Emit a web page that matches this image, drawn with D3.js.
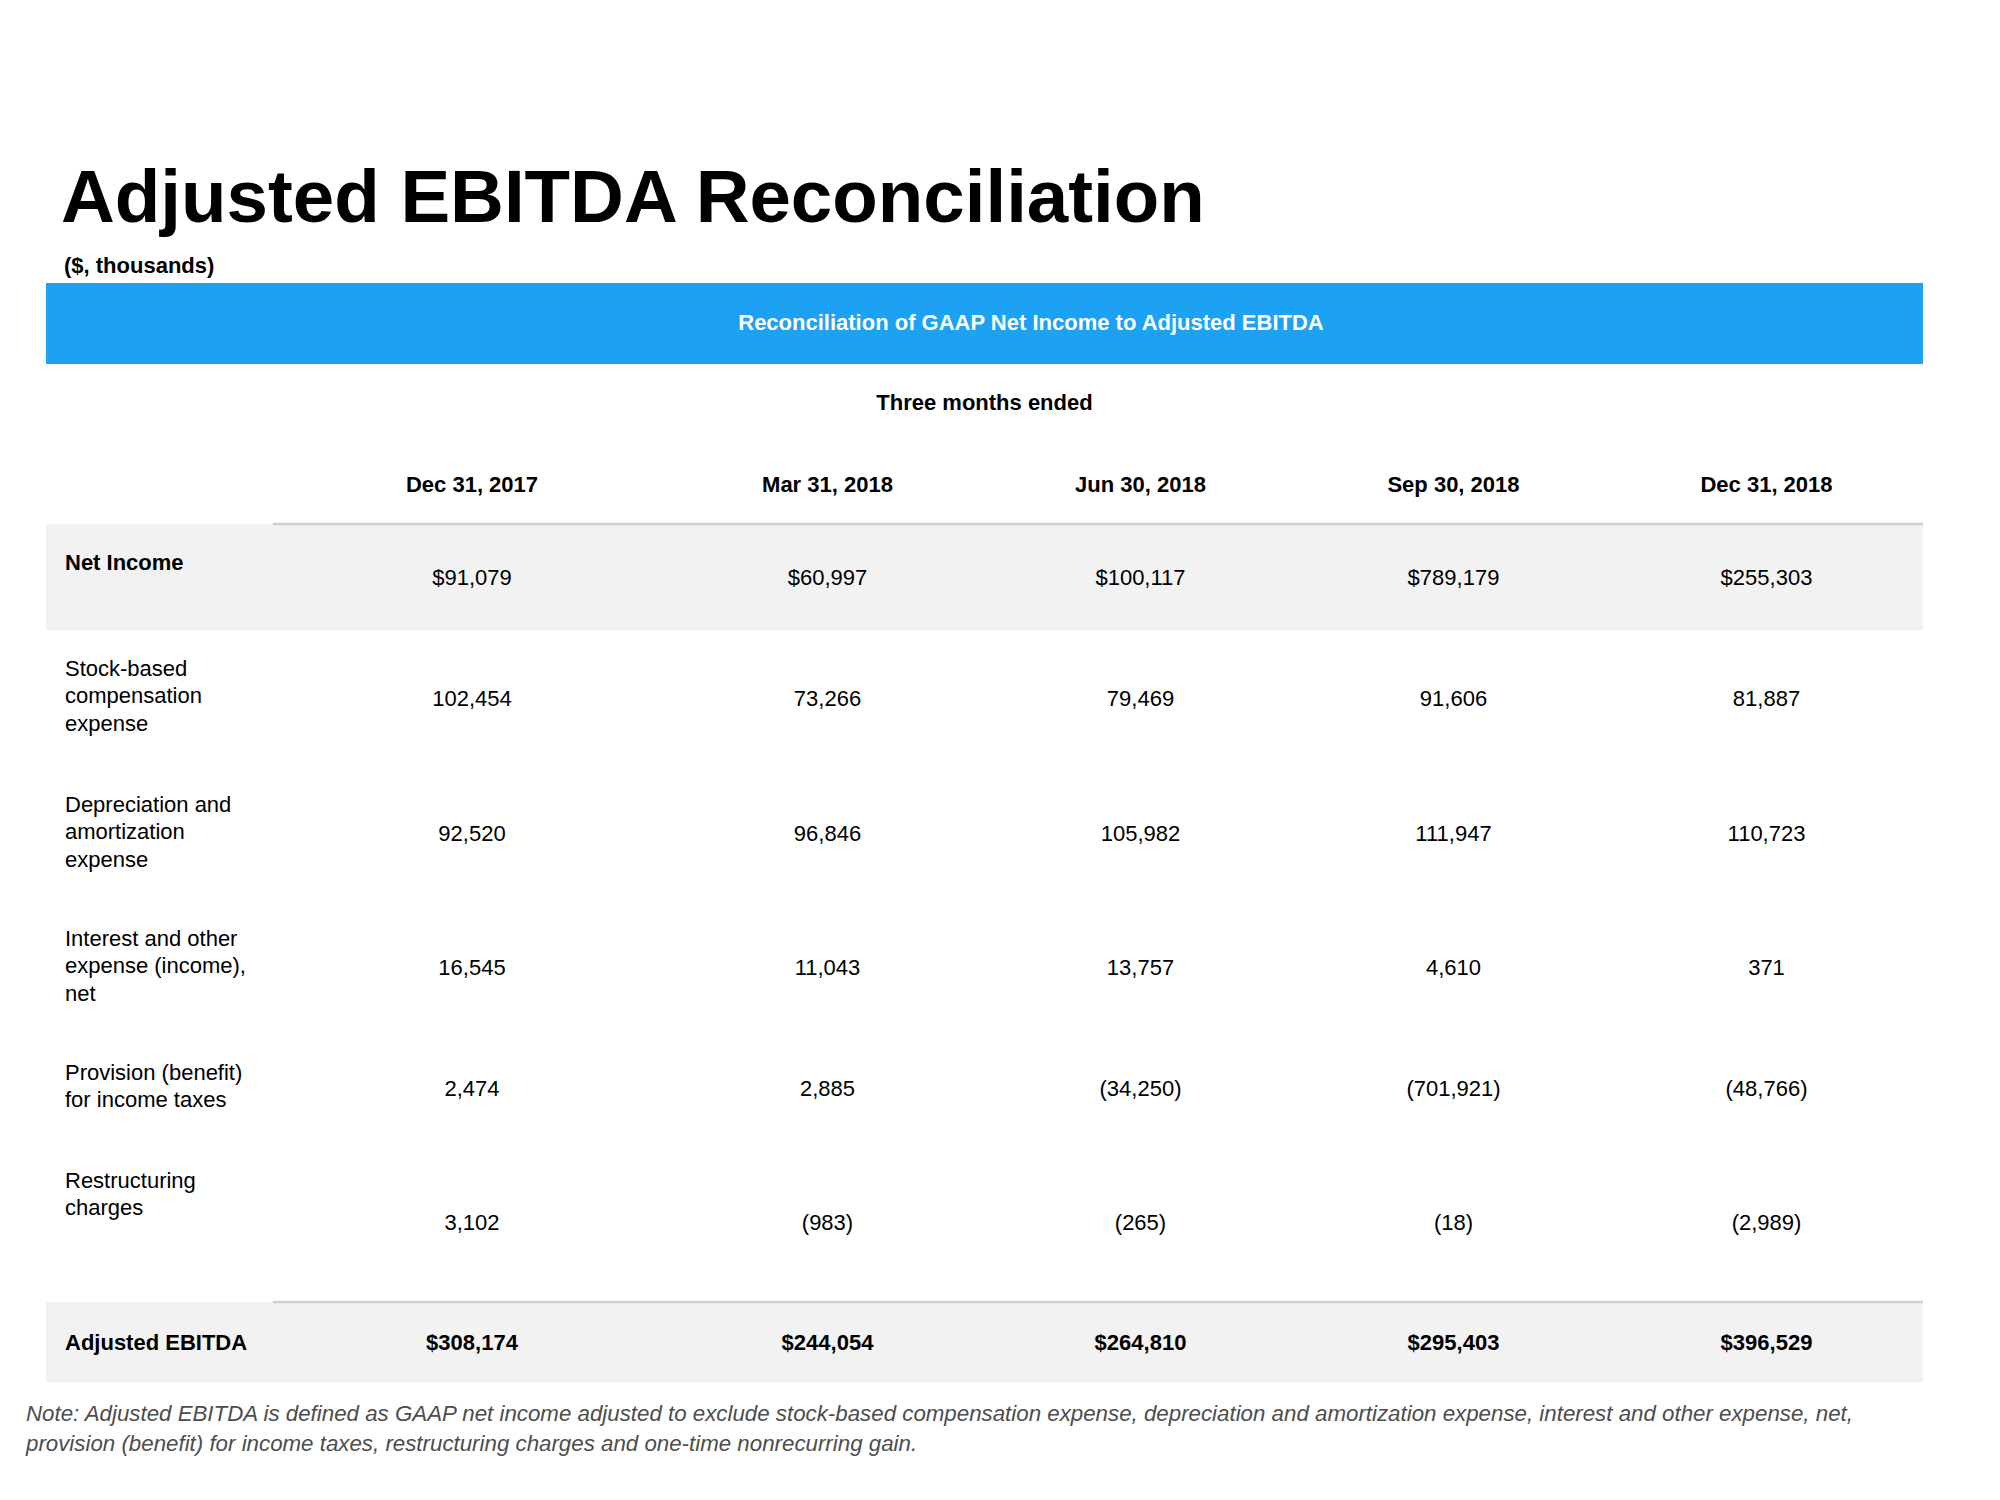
<!DOCTYPE html>
<html>
<head>
<meta charset="utf-8">
<script src="https://cdn.jsdelivr.net/npm/d3@7"></script>
<style>
  html, body { margin: 0; padding: 0; background: #fff; }
  svg { display: block; font-family: "Liberation Sans", Arial, Helvetica, sans-serif; }
</style>
</head>
<body>
<script>
// ---------- DATA ----------
const title = "Adjusted EBITDA Reconciliation";
const subtitle = "($, thousands)";
const bannerText = "Reconciliation of GAAP Net Income to Adjusted EBITDA";
const periodHeader = "Three months ended";
const periods = ["Dec 31, 2017", "Mar 31, 2018", "Jun 30, 2018", "Sep 30, 2018", "Dec 31, 2018"];

const rowLabels = [
  "Net Income",
  "Stock-based\ncompensation\nexpense",
  "Depreciation and\namortization\nexpense",
  "Interest and other\nexpense (income),\nnet",
  "Provision (benefit)\nfor income taxes",
  "Restructuring\ncharges",
  "Adjusted EBITDA"
];
const netIncome      = [91079, 60997, 100117, 789179, 255303];
const stockComp      = [102454, 73266, 79469, 91606, 81887];
const deprAmort      = [92520, 96846, 105982, 111947, 110723];
const interestOther  = [16545, 11043, 13757, 4610, 371];
const incomeTaxes    = [2474, 2885, -34250, -701921, -48766];
const restructuring  = [3102, -983, -265, -18, -2989];
const adjustedEbitda = [308174, 244054, 264810, 295403, 396529];
const noteLines = [
  "Note: Adjusted EBITDA is defined as GAAP net income adjusted to exclude stock-based compensation expense, depreciation and amortization expense, interest and other expense, net,",
  "provision (benefit) for income taxes, restructuring charges and one-time nonrecurring gain."
];

// ---------- LAYOUT ----------
const W = 2000, H = 1500;
const tableLeft = 46, tableRight = 1923, labelColRight = 273;
const colWidths = [398, 313, 313, 313, 313];
const tableTop = 524;
const rowHeights = [106, 136, 134, 134, 108, 160, 80];
const blue = "#1DA1F2";
const band = "#f2f2f2";
const ruleColor = "#cfcfcf";
const fs = 22;

const rows = [netIncome, stockComp, deprAmort, interestOther, incomeTaxes, restructuring, adjustedEbitda]
  .map((vals, i) => ({
    label: rowLabels[i],
    values: vals,
    dollar: i === 0 || i === 6,
    total: i === 6,
    bold: i === 0 || i === 6,
    shaded: i === 0 || i === 6
  }));

// column centers via ordinal scale
const colEdges = d3.cumsum([labelColRight, ...colWidths]);
const colCenters = colWidths.map((w, i) => colEdges[i] + w / 2);
const x = d3.scaleOrdinal().domain(periods).range(colCenters);

// row tops via ordinal scale
const rowTops = [tableTop, ...d3.cumsum(rowHeights).map(v => v + tableTop)];
const yTop = d3.scaleOrdinal().domain(d3.range(rows.length)).range(rowTops);

const fmtNum = d3.format(",");
function fmt(v, dollar) {
  const s = fmtNum(Math.abs(v));
  if (v < 0) return "(" + (dollar ? "$" : "") + s + ")";
  return (dollar ? "$" : "") + s;
}

const svg = d3.select("body").append("svg").attr("width", W).attr("height", H);

// Title
svg.append("text").attr("x", 61).attr("y", 222)
  .attr("font-size", 74.5).attr("font-weight", "bold").attr("fill", "#000")
  .text(title);
svg.append("text").attr("x", 64).attr("y", 265).attr("dominant-baseline", "central")
  .attr("font-size", fs).attr("font-weight", "bold").attr("fill", "#000")
  .text(subtitle);

// Banner
svg.append("rect").attr("x", tableLeft).attr("y", 283)
  .attr("width", tableRight - tableLeft).attr("height", 81).attr("fill", blue);
svg.append("text").attr("x", 1031).attr("y", 322).attr("text-anchor", "middle")
  .attr("dominant-baseline", "central").attr("font-size", fs).attr("font-weight", "bold")
  .attr("fill", "#fff").text(bannerText);

// Three months ended
svg.append("text").attr("x", (tableLeft + tableRight) / 2).attr("y", 402).attr("text-anchor", "middle")
  .attr("dominant-baseline", "central").attr("font-size", fs).attr("font-weight", "bold")
  .attr("fill", "#000").text(periodHeader);

// Column headers
svg.append("g").selectAll("text").data(periods).join("text")
  .attr("x", d => x(d)).attr("y", 484).attr("text-anchor", "middle")
  .attr("dominant-baseline", "central").attr("font-size", fs).attr("font-weight", "bold")
  .attr("fill", "#000").text(d => d);

// Row shading
const rowG = svg.append("g").selectAll("g").data(rows).join("g");
rowG.filter(d => d.shaded).append("rect")
  .attr("x", tableLeft).attr("y", 0)
  .attr("width", tableRight - tableLeft)
  .attr("height", d => rowHeights[rows.indexOf(d)])
  .attr("transform", d => `translate(0,${yTop(rows.indexOf(d))})`)
  .attr("fill", band);

// Rules above first row and above total row
svg.append("g").selectAll("line").data([0, 6]).join("line")
  .attr("x1", labelColRight).attr("x2", tableRight)
  .attr("y1", d => yTop(d)).attr("y2", d => yTop(d))
  .attr("stroke", ruleColor).attr("stroke-width", 2.5);

// Row labels and values
const lineH = 27.5;
rowG.each(function(d, i) {
  const g = d3.select(this);
  const top = yTop(i), h = rowHeights[i];
  const lines = d.label.split("\n");
  const firstY = d.total ? top + h / 2 : top + 38;
  g.append("text").attr("font-size", fs).attr("font-weight", d.bold ? "bold" : "normal")
    .attr("fill", "#000")
    .selectAll("tspan").data(lines).join("tspan")
    .attr("x", 65).attr("y", (l, k) => firstY + k * lineH)
    .attr("dominant-baseline", "central").text(l => l);
  g.append("g").selectAll("text").data(d.values).join("text")
    .attr("x", (v, k) => x(periods[k])).attr("y", top + h / 2)
    .attr("text-anchor", "middle").attr("dominant-baseline", "central")
    .attr("font-size", fs).attr("font-weight", d.total ? "bold" : "normal")
    .attr("fill", "#000").text(v => fmt(v, d.dollar));
});

// Note
svg.append("g").selectAll("text").data(noteLines).join("text")
  .attr("x", 26).attr("y", (d, i) => 1413 + i * 30)
  .attr("dominant-baseline", "central").attr("font-size", 22.3).attr("font-style", "italic")
  .attr("fill", "#4d4d4d").text(d => d);
</script>
</body>
</html>
